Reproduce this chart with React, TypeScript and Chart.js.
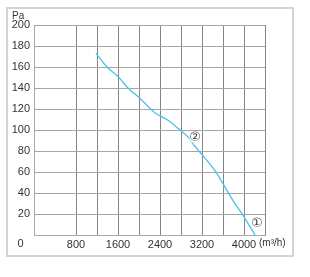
import React, { useEffect, useRef } from "react";
import { Chart, registerables } from "chart.js";

Chart.register(...registerables);

const flowValues = [1180, 1390, 1600, 1790, 2020, 2290, 2560, 2780, 2960, 3040, 3260, 3450, 3610, 3800, 3990, 4210];
const pressureValues = [173, 160, 151, 140, 130, 117, 109, 100, 92, 86, 73, 61, 48, 32, 18, 0];
const xLabelTicks = [800, 1600, 2400, 3200, 4000];
const yLabelTicks = [20, 40, 60, 80, 100, 120, 140, 160, 180, 200];
const markers = [
  { label: "②", x: 3067, y: 93 },
  { label: "①", x: 4246, y: 11 },
];
const xUnit = "(m³/h)";
const yUnit = "Pa";
const originLabel = "0";

const FONT = "'Liberation Sans', Arial, sans-serif";

const decorPlugin = {
  id: "decor",
  beforeDraw(chart: any) {
    const ctx = chart.ctx;
    ctx.save();
    ctx.fillStyle = "#ffffff";
    ctx.fillRect(0, 0, chart.width, chart.height);
    ctx.strokeStyle = "#d4d4d4";
    ctx.lineWidth = 2;
    ctx.strokeRect(7, 8, 286, 248);
    ctx.restore();
  },
  afterDraw(chart: any) {
    const ctx = chart.ctx;
    const xs = chart.scales.x;
    const ys = chart.scales.y;
    ctx.save();
    ctx.fillStyle = "#333333";
    ctx.font = `10px ${FONT}`;
    ctx.textBaseline = "middle";
    ctx.textAlign = "left";
    ctx.fillText(yUnit, 12, 16);
    ctx.fillText(xUnit, xs.getPixelForValue(4000) + 15, 243.5);
    ctx.textAlign = "center";
    ctx.font = `11px ${FONT}`;
    ctx.fillText(originLabel, 20.5, 243.5);
    ctx.font = `13px 'DejaVu Sans', sans-serif`;
    markers.forEach((m) => {
      const px = xs.getPixelForValue(m.x);
      const py = ys.getPixelForValue(m.y);
      ctx.fillStyle = "#ffffff";
      ctx.beginPath();
      ctx.arc(px, py, 5.5, 0, Math.PI * 2);
      ctx.fill();
      ctx.fillStyle = "#444444";
      ctx.fillText(m.label, px, py + 0.5);
    });
    ctx.restore();
  },
};

export default function App() {
  const ref = useRef<HTMLCanvasElement | null>(null);
  useEffect(() => {
    if (!ref.current) return;
    const chart = new Chart(ref.current, {
      type: "scatter",
      data: {
        datasets: [
          {
            data: flowValues.map((x, i) => ({ x, y: pressureValues[i] })),
            showLine: true,
            borderColor: "#4cc2ee",
            borderWidth: 1.3,
            pointRadius: 0,
            tension: 0.3,
          },
        ],
      },
      options: {
        animation: false,
        responsive: false,
        maintainAspectRatio: false,
        layout: { padding: { top: 25, right: 45, left: 0, bottom: 0 } },
        plugins: { legend: { display: false }, tooltip: { enabled: false } },
        scales: {
          x: {
            type: "linear",
            min: 0,
            max: 4400,
            afterFit: (s: any) => {
              s.height = 42;
            },
            afterBuildTicks: (s: any) => {
              const t = [];
              for (let v = 0; v <= 4400; v += 400) t.push({ value: v });
              s.ticks = t;
            },
            grid: {
              color: (c: any) => (c.tick && c.tick.value === 400 ? "rgba(0,0,0,0)" : "#858585"),
              lineWidth: 1,
              drawTicks: false,
            },
            border: { color: "#aaaaaa", width: 1 },
            ticks: {
              autoSkip: false,
              maxRotation: 0,
              padding: 3,
              color: "#333333",
              font: { family: FONT, size: 11 },
              callback: (v: any) => (xLabelTicks.includes(Number(v)) ? String(v) : ""),
            },
          },
          y: {
            type: "linear",
            min: 0,
            max: 200,
            afterFit: (s: any) => {
              s.width = 34;
            },
            afterBuildTicks: (s: any) => {
              const t = [];
              for (let v = 0; v <= 200; v += 20) t.push({ value: v });
              s.ticks = t;
            },
            grid: { color: "#a5a5a5", lineWidth: 1, drawTicks: false },
            border: { color: "#aaaaaa", width: 1 },
            ticks: {
              autoSkip: false,
              padding: 4,
              color: "#333333",
              font: { family: FONT, size: 11 },
              callback: (v: any) => (yLabelTicks.includes(Number(v)) ? String(v) : ""),
            },
          },
        },
      },
      plugins: [decorPlugin],
    });
    return () => chart.destroy();
  }, []);
  return (
    <div style={{ position: "fixed", left: 0, top: 0, width: 310, height: 277 }}>
      <canvas ref={ref} width={310} height={277} style={{ width: 310, height: 277, display: "block" }} />
    </div>
  );
}
